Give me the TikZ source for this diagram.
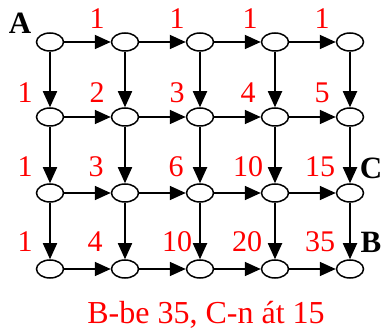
\documentclass[tikz,border=0pt]{standalone}
\usepackage{fontspec}
\setmainfont{Liberation Serif}
\usetikzlibrary{arrows.meta,shapes.geometric,calc}
\begin{document}
\begin{tikzpicture}[x=1pt,y=-1pt,
  dot/.style={ellipse,draw,line width=1.5pt,minimum width=27pt,minimum height=18pt,inner sep=0pt,fill=white},
  arr/.style={line width=1.8pt,-{Triangle[length=16pt,width=14pt]}},
  num/.style={text=red,font=\fontsize{30}{30}\selectfont,inner sep=0pt},
  captext/.style={text=red,font=\fontsize{32}{32}\selectfont,inner sep=0pt},
  lab/.style={font=\fontsize{31}{31}\selectfont\bfseries,inner sep=0pt}]
\useasboundingbox (0,0) rectangle (382,336);
\foreach \r/\y in {0/42,1/117,2/193,3/269}{
  \foreach \c/\x in {0/50,1/125,2/200,3/275,4/350}{
    \node[dot] (n\r\c) at (\x,\y) {};
  }
}
\foreach \r in {0,1,2,3}{
  \foreach \c/\d in {0/1,1/2,2/3,3/4}{
    \draw[arr] (n\r\c) -- (n\r\d);
  }
}
\foreach \c in {0,1,2,3,4}{
  \foreach \r/\s in {0/1,1/2,2/3}{
    \draw[arr] (n\r\c) -- (n\s\c);
  }
}
% numbers
\foreach \r/\c/\t/\dx/\dy in {0/1/1/-28/-23,0/2/1/-23/-23,0/3/1/-25/-23,0/4/1/-28/-23,
  1/0/1/-25/-24,1/1/2/-28/-24,1/2/3/-23/-24,1/3/4/-27/-24,1/4/5/-28/-24,
  2/0/1/-25/-26,2/1/3/-29/-26,2/2/6/-24/-26,2/3/10/-27/-26,2/4/15/-30/-26,
  3/0/1/-25/-27,3/1/4/-30/-27,3/2/10/-23/-27,3/3/20/-28/-27,3/4/35/-30/-27}{
  \node[num] (l\r\c) at ($(n\r\c)+(\dx,\dy)$) {\t};
}
\node[lab] (A) at (20,23) {A};
\node[lab] (C) at (371,168) {C};
\node[lab] (B) at (371,242) {B};
\node[captext,anchor=base] (caption) at (206,323) {B-be 35, C-n át 15};
\end{tikzpicture}
\end{document}
